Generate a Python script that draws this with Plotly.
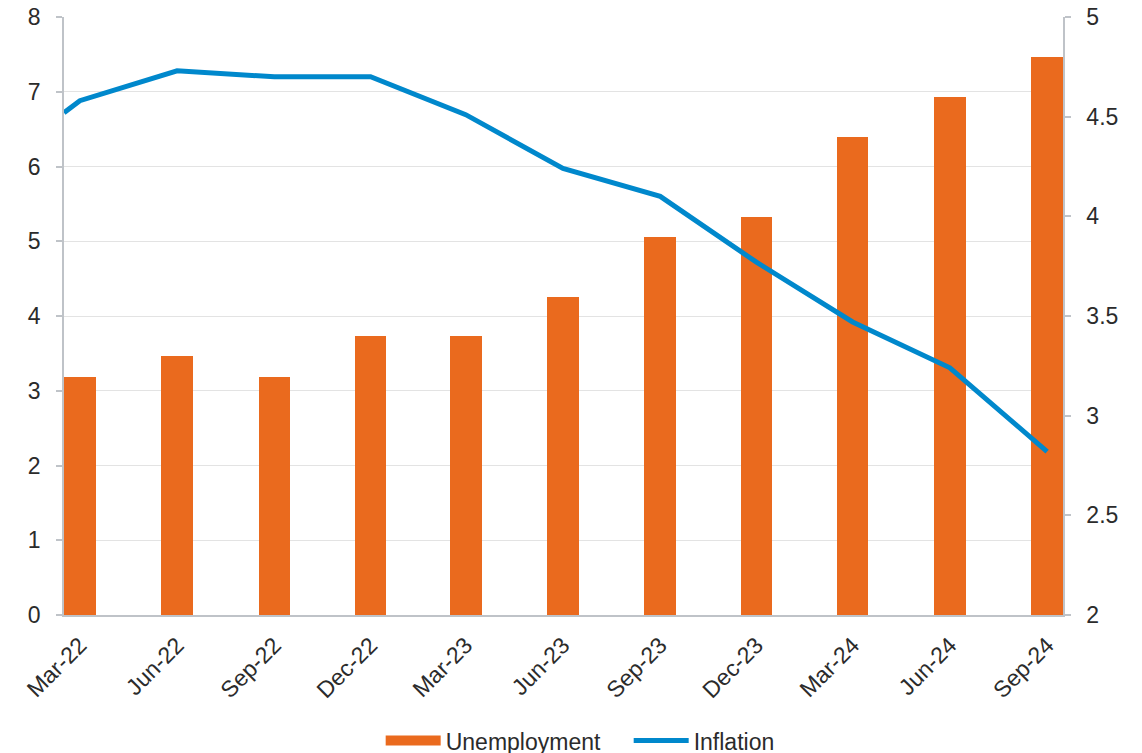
import plotly.graph_objects as go

# Data
quarter_dates = ["2022-03-01", "2022-06-01", "2022-09-01", "2022-12-01", "2023-03-01",
                 "2023-06-01", "2023-09-01", "2023-12-01", "2024-03-01", "2024-06-01",
                 "2024-09-01"]
quarter_labels = ["Mar-22", "Jun-22", "Sep-22", "Dec-22", "Mar-23", "Jun-23",
                  "Sep-23", "Dec-23", "Mar-24", "Jun-24", "Sep-24"]
unemployment = [3.19, 3.46, 3.19, 3.73, 3.73, 4.26, 5.06, 5.33, 6.40, 6.93, 7.46]

inflation_dates = ["2022-02-14", "2022-03-01", "2022-06-01", "2022-09-01", "2022-12-01",
                   "2023-03-01", "2023-06-01", "2023-09-01", "2023-12-01", "2024-03-01",
                   "2024-06-01", "2024-09-01"]
inflation = [4.52, 4.58, 4.73, 4.70, 4.70, 4.51, 4.24, 4.10, 3.77, 3.47, 3.24, 2.82]

ORANGE = "#EA6A1E"
BLUE = "#0088CC"
AXIS = "#BFC3C8"
GRID = "#E3E3E3"
TXT = "#2B2B2B"
FONT = "Liberation Sans, Arial, sans-serif"
FS = 23

fig = go.Figure()
fig.add_trace(go.Bar(
    x=quarter_dates, y=unemployment, name="Unemployment",
    marker=dict(color=ORANGE, line=dict(width=0)),
    width=30 * 86400000, yaxis="y", legendgroup="u", showlegend=False,
))
# legend entry for the bars (wide swatch as in the reference)
fig.add_trace(go.Scatter(
    x=[None], y=[None], name="Unemployment", mode="lines",
    line=dict(color=ORANGE, width=13), legendgroup="u", showlegend=True,
    hoverinfo="skip",
))
fig.add_trace(go.Scatter(
    x=inflation_dates, y=inflation, name="Inflation", mode="lines",
    line=dict(color=BLUE, width=5), yaxis="y2",
))

fig.update_layout(
    width=1142, height=753,
    margin=dict(l=64, r=79, t=17, b=138, autoexpand=False),
    paper_bgcolor="white", plot_bgcolor="white",
    font=dict(family=FONT, size=FS, color=TXT),
    showlegend=True,
    legend=dict(orientation="h", x=0.317, xanchor="left", y=-0.21, yanchor="middle",
                font=dict(size=FS, color=TXT), itemwidth=55, traceorder="normal",
                entrywidth=178, entrywidthmode="pixels"),
    bargap=0,
    xaxis=dict(
        type="date", automargin=False,
        range=["2022-02-14", "2024-09-16"],
        tickvals=quarter_dates, ticktext=quarter_labels,
        tickangle=-45, showgrid=False, zeroline=False,
        showline=True, linecolor=AXIS, linewidth=1.5,
        ticks="", tickfont=dict(size=FS, color=TXT), ticklabelstandoff=6,
        ticklabeloverflow="allow",
    ),
    yaxis=dict(
        range=[0, 8], dtick=1, showgrid=True, gridcolor=GRID, gridwidth=1,
        automargin=False,
        zeroline=False, showline=True, linecolor=AXIS, linewidth=1.5,
        ticks="outside", ticklen=6, tickcolor=AXIS, tickwidth=1.5,
        tickfont=dict(size=FS, color=TXT), ticklabelstandoff=11,
        ticklabeloverflow="allow",
    ),
    yaxis2=dict(
        range=[2, 5], dtick=0.5, overlaying="y", side="right", automargin=False,
        showgrid=False, zeroline=False, showline=True, linecolor=AXIS, linewidth=1.5,
        ticks="outside", ticklen=6, tickcolor=AXIS, tickwidth=1.5,
        tickfont=dict(size=FS, color=TXT), ticklabelstandoff=11,
        ticklabeloverflow="allow",
    ),
)

# remove the default 8px page margin so the figure fills the window exactly
fig.write_html("out.html", config={"displayModeBar": False},
               post_script="document.body.style.margin='0';")
